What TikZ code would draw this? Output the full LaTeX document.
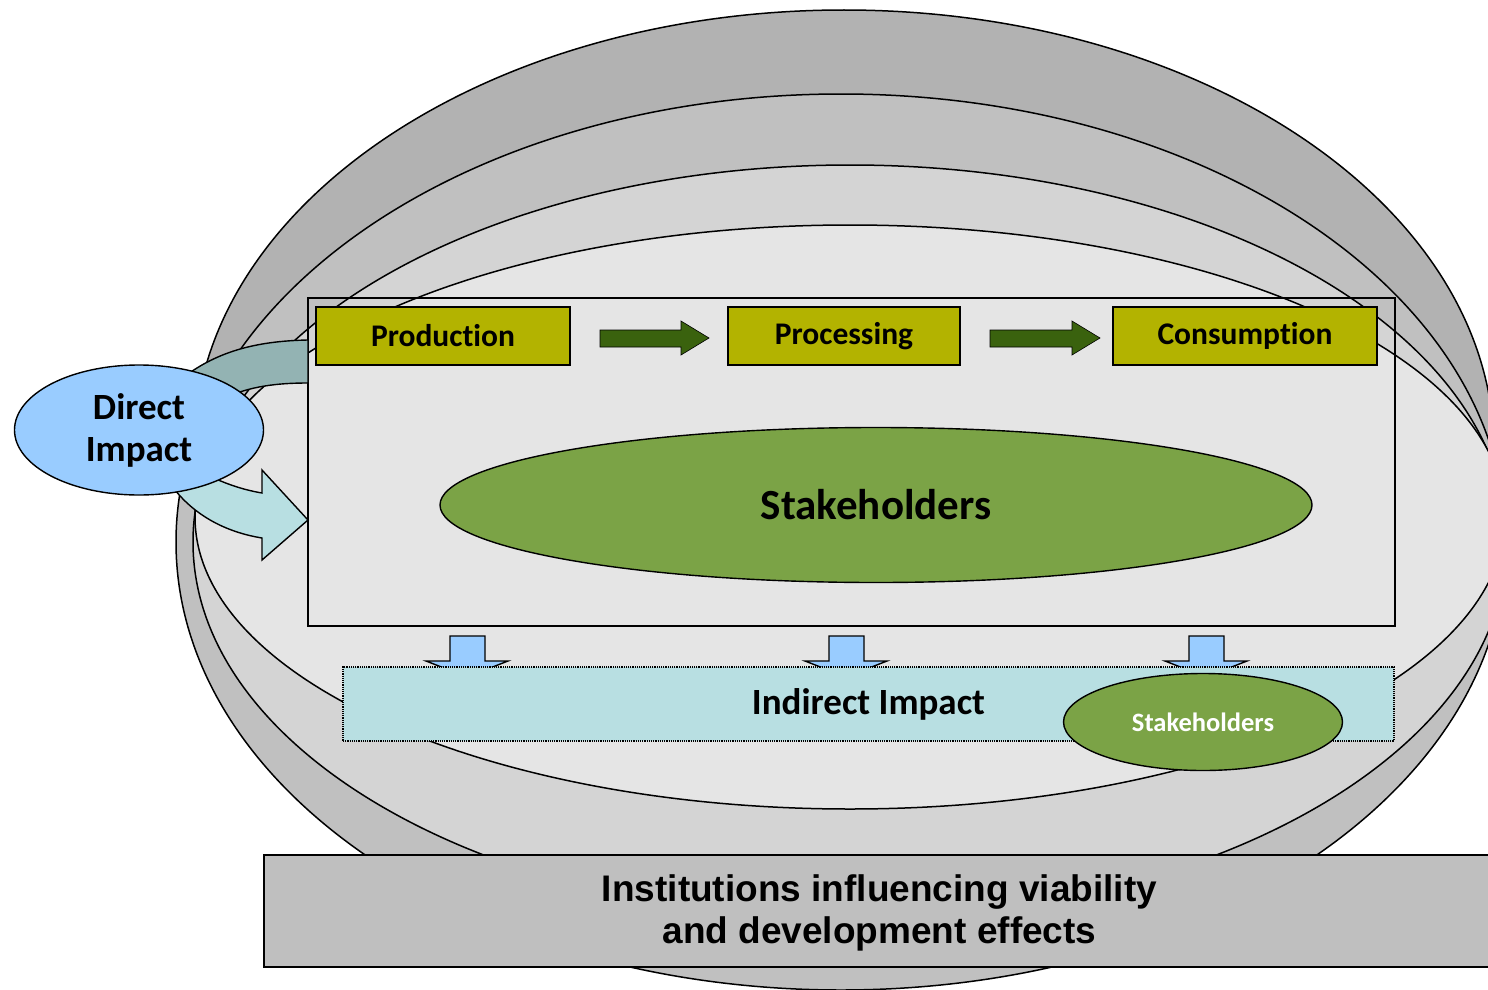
\documentclass[tikz,border=0pt]{standalone}
\usepackage{fontspec}
\setmainfont{Carlito}[RawFeature={-liga,-clig,-dlig}]
\newfontfamily\arialfont{Liberation Sans}
\usetikzlibrary{shapes.geometric}
\definecolor{gA}{HTML}{B2B2B2}
\definecolor{gB}{HTML}{C0C0C0}
\definecolor{gC}{HTML}{D4D4D4}
\definecolor{gD}{HTML}{E5E5E5}
\definecolor{olivebox}{HTML}{B3B300}
\definecolor{dgreen}{HTML}{3A620E}
\definecolor{leaf}{HTML}{7BA346}
\definecolor{skyb}{HTML}{99CCFF}
\definecolor{cyanl}{HTML}{B8DFE2}
\definecolor{tealg}{HTML}{93B3B3}
\definecolor{instg}{HTML}{BFBFBF}
\tikzset{
  ring/.style={draw=black, line width=1.5pt},
  stagebox/.style={draw=black, line width=1.4pt, fill=olivebox, minimum height=58pt, inner sep=0pt, font=\bfseries\fontsize{31.5}{36}\selectfont},
  flowarrow/.style={draw=black, line width=0.6pt, fill=dgreen},
  downarrow/.style={draw=black, line width=1.4pt, fill=skyb},
  stakeell/.style={ellipse, draw=black, line width=1.4pt, fill=leaf, inner sep=0pt},
}
\begin{document}
\begin{tikzpicture}[x=1pt,y=-1pt]
\useasboundingbox (0,0) rectangle (1488,990);
\clip (0,0) rectangle (1488,990);
% nested ellipses
\draw[ring, fill=gA] (844,450) ellipse [x radius=650pt, y radius=440pt];
\draw[ring, fill=gB] (841,542) ellipse [x radius=665pt, y radius=448pt];
\draw[ring, fill=gC] (850,542) ellipse [x radius=657pt, y radius=377pt];
\draw[ring, fill=gD] (850,517) ellipse [x radius=655pt, y radius=292pt];
% frame
\node[draw=black, line width=1.6pt, minimum width=1087pt, minimum height=328pt, inner sep=0pt] (frame) at (851.5,462) {};
% stage boxes
\node[stagebox, minimum width=254pt] (prod) at (443,336) {Produc\kern0pt tion};
\node[stagebox, minimum width=232pt] (proc) at (844,336) {Processing};
\node[stagebox, minimum width=264pt] (cons) at (1245,336) {Consump\kern0pt t\kern0pt ion};
% flow arrows
\draw[flowarrow] (600,330) -- (681,330) -- (681,321) -- (709,338) -- (681,355) -- (681,347) -- (600,347) -- cycle;
\draw[flowarrow] (990,330) -- (1072,330) -- (1072,321) -- (1100,338) -- (1072,355) -- (1072,347) -- (990,347) -- cycle;
% big stakeholders
\node[stakeell, minimum width=872pt, minimum height=155pt, font=\bfseries\fontsize{43}{50}\selectfont] (stk) at (876,505) {Stakeholders};
% direct impact arrows
\draw[line width=1.4pt, fill=tealg] (180,380) .. controls (215,352) and (255,341) .. (308,340) -- (308,383) .. controls (270,383) and (245,388) .. (220,400) -- cycle;
\draw[line width=1.4pt, fill=cyanl] (190,466) .. controls (215,480) and (238,489) .. (262,493) -- (262,470) -- (308,520) -- (262,560) -- (262,538) .. controls (225,532) and (195,515) .. (175,490) -- cycle;
\node[ellipse, draw=black, line width=1.4pt, fill=skyb, minimum width=249pt, minimum height=130pt, inner sep=0pt, align=center, font=\bfseries\fontsize{37}{42}\selectfont] (di) at (139,430) {Direct\\Impact};
% down arrows
\foreach \cx in {467,846,1206}{
  \draw[downarrow] (\cx-17,636) -- (\cx+18,636) -- (\cx+18,661) -- (\cx+41,661) -- (\cx,677) -- (\cx-41,661) -- (\cx-17,661) -- cycle;
}
% indirect impact
\node[draw=black, densely dotted, line width=1.2pt, fill=cyanl, minimum width=1051pt, minimum height=74pt, inner sep=0pt, font=\bfseries\fontsize{37}{42}\selectfont] (ind) at (868.5,704) {Indirect Impact};
\node[stakeell, minimum width=279pt, minimum height=97pt, text=white, font=\bfseries\fontsize{26.5}{30}\selectfont] (stk2) at (1203,722) {Stakeholders};
% institutions
\node[draw=black, line width=1.6pt, fill=instg, minimum width=1236pt, minimum height=112pt, inner sep=0pt] (inst) at (882,911) {};
\node[align=center, inner sep=0pt, font=\arialfont\bfseries\fontsize{37}{42}\selectfont] (insttext) at (879.5,913) {Institutions influencing viability\\and development effects};
\end{tikzpicture}
\end{document}
